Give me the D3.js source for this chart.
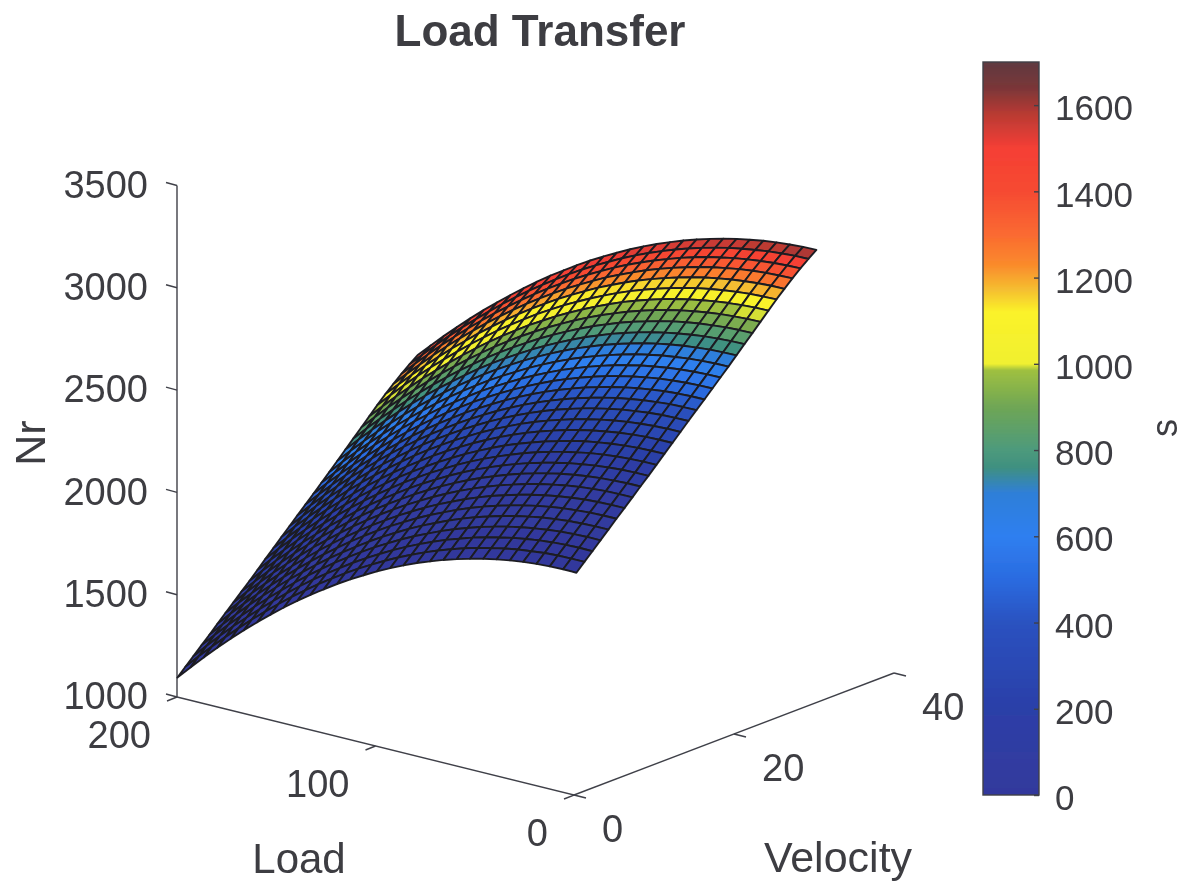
<!DOCTYPE html>
<html>

<head>
    <title>Load Transfer</title>
    <style>
        body {
            margin: 0;
            background: #fff;
        }

        text {
            font-family: "Liberation Sans", Arial, sans-serif;
            fill: #3d3d42;
        }
    </style>
    <script src="https://d3js.org/d3.v7.min.js"></script>
</head>

<body>
    <svg width="1186" height="884"></svg>

    <script>

        // values
        var loads = [0, 6.7, 13.4, 20.1, 26.8, 33.5, 40.2, 46.9, 53.6, 60.3, 67, 73.7, 80.4, 87.1, 93.8, 100.5, 107.2, 113.9, 120.6, 127.3, 134, 140.7, 147.4, 154.1, 160.8, 167.5, 174.2, 180.9, 187.6, 194.3, 201];
        var velocities = [0.3, 1.3, 2.3, 3.3, 4.3, 5.3, 6.3, 7.3, 8.3, 9.3, 10.3, 11.3, 12.3, 13.3, 14.3, 15.3, 16.3, 17.3, 18.3, 19.3, 20.3, 21.3, 22.3, 23.3, 24.3, 25.3, 26.3, 27.3, 28.3, 29.3, 30.3];

        // Nr, one row per load, one column per velocity
        var nr = [
            [2082,2120,2157,2195,2233,2271,2308,2346,2384,2421,2460,2499,2537,2576,2615,2653,2690,2729,2768,2806,2846,2886,2925,2965,3005,3045,3082,3118,3152,3183,3213],
            [2083,2120,2158,2196,2233,2271,2308,2346,2384,2421,2460,2498,2537,2576,2614,2652,2690,2728,2767,2805,2845,2885,2924,2964,3004,3043,3081,3116,3150,3182,3211],
            [2081,2119,2156,2194,2231,2269,2306,2344,2381,2419,2457,2496,2535,2573,2612,2650,2687,2725,2764,2802,2842,2881,2921,2960,3000,3040,3077,3113,3146,3178,3207],
            [2077,2115,2152,2190,2227,2264,2302,2339,2377,2414,2453,2491,2530,2568,2607,2644,2682,2720,2759,2797,2836,2876,2915,2955,2994,3034,3071,3107,3140,3172,3201],
            [2071,2108,2146,2183,2220,2258,2295,2333,2370,2407,2446,2484,2523,2561,2599,2637,2674,2713,2751,2789,2829,2868,2908,2947,2986,3026,3063,3099,3132,3163,3193],
            [2062,2100,2137,2174,2212,2249,2286,2324,2361,2398,2437,2475,2513,2552,2590,2627,2665,2703,2741,2780,2819,2858,2898,2937,2976,3016,3053,3088,3122,3153,3182],
            [2051,2089,2126,2163,2200,2238,2275,2312,2350,2387,2425,2464,2502,2540,2578,2616,2653,2691,2730,2768,2807,2846,2886,2925,2964,3004,3041,3076,3109,3141,3170],
            [2038,2075,2112,2150,2187,2224,2261,2299,2336,2373,2411,2450,2488,2526,2564,2602,2639,2677,2715,2754,2793,2832,2871,2911,2950,2989,3026,3061,3095,3126,3155],
            [2022,2060,2097,2134,2171,2208,2245,2283,2320,2357,2395,2433,2472,2510,2548,2585,2622,2661,2699,2737,2776,2815,2854,2894,2933,2972,3009,3044,3078,3109,3138],
            [2004,2042,2079,2116,2153,2190,2227,2264,2302,2339,2377,2415,2453,2491,2529,2567,2604,2642,2680,2718,2757,2796,2836,2875,2914,2953,2990,3025,3059,3090,3119],
            [1984,2021,2058,2095,2133,2170,2207,2244,2281,2318,2356,2394,2433,2471,2509,2546,2583,2621,2659,2697,2736,2776,2815,2854,2893,2932,2969,3004,3037,3069,3098],
            [1961,1999,2036,2073,2110,2147,2184,2221,2258,2295,2333,2372,2410,2448,2486,2523,2560,2598,2636,2674,2713,2752,2791,2830,2870,2909,2946,2981,3014,3045,3074],
            [1937,1974,2011,2048,2085,2122,2159,2196,2233,2270,2308,2347,2385,2423,2461,2498,2535,2573,2611,2649,2688,2727,2766,2805,2844,2883,2920,2955,2988,3020,3049],
            [1909,1946,1983,2020,2057,2094,2131,2169,2206,2243,2281,2319,2357,2395,2433,2470,2507,2545,2583,2621,2660,2699,2738,2777,2816,2855,2892,2927,2961,2992,3021],
            [1880,1917,1954,1991,2028,2065,2102,2139,2176,2213,2251,2289,2327,2365,2403,2440,2477,2515,2553,2591,2630,2669,2708,2747,2786,2825,2863,2898,2931,2962,2991],
            [1848,1885,1922,1959,1996,2033,2070,2107,2144,2181,2219,2257,2295,2333,2371,2408,2445,2483,2521,2559,2598,2637,2676,2715,2754,2793,2830,2865,2898,2929,2958],
            [1813,1850,1887,1924,1961,1998,2035,2072,2109,2146,2184,2222,2260,2298,2336,2373,2410,2448,2486,2524,2564,2603,2642,2681,2720,2759,2796,2831,2864,2895,2924],
            [1777,1814,1851,1888,1925,1962,1999,2036,2073,2110,2148,2186,2224,2262,2300,2337,2374,2412,2450,2488,2527,2566,2605,2644,2683,2722,2760,2795,2828,2859,2888],
            [1738,1775,1812,1849,1886,1923,1960,1997,2034,2071,2109,2147,2185,2223,2261,2298,2336,2374,2412,2450,2489,2528,2567,2606,2645,2684,2721,2756,2789,2820,2849],
            [1696,1733,1770,1807,1844,1882,1919,1956,1993,2030,2068,2106,2144,2182,2220,2257,2294,2332,2370,2408,2448,2487,2526,2565,2604,2643,2680,2715,2748,2779,2808],
            [1653,1690,1727,1764,1801,1838,1875,1912,1950,1987,2024,2063,2101,2139,2177,2214,2251,2289,2327,2365,2404,2444,2483,2522,2561,2600,2637,2672,2705,2736,2766],
            [1607,1644,1681,1718,1755,1792,1830,1867,1904,1941,1979,2017,2055,2093,2131,2168,2206,2244,2282,2320,2359,2398,2437,2476,2516,2555,2592,2627,2660,2691,2720],
            [1559,1596,1633,1670,1707,1744,1781,1818,1856,1893,1931,1969,2007,2045,2083,2121,2158,2196,2234,2272,2311,2350,2390,2429,2468,2507,2544,2579,2612,2644,2673],
            [1508,1545,1582,1619,1656,1694,1731,1768,1805,1842,1881,1919,1957,1995,2033,2071,2108,2146,2184,2222,2261,2301,2340,2379,2418,2457,2495,2530,2563,2594,2623],
            [1455,1492,1529,1566,1604,1641,1678,1716,1753,1790,1828,1866,1904,1943,1981,2018,2056,2094,2132,2170,2209,2249,2288,2327,2366,2405,2442,2478,2511,2542,2571],
            [1400,1437,1474,1511,1549,1586,1623,1660,1698,1735,1773,1811,1850,1888,1926,1964,2001,2039,2077,2116,2155,2194,2234,2273,2312,2351,2389,2424,2457,2488,2518],
            [1342,1379,1416,1454,1491,1528,1566,1603,1641,1678,1716,1754,1793,1831,1869,1907,1944,1982,2021,2059,2098,2138,2177,2216,2256,2295,2332,2368,2401,2433,2462],
            [1282,1319,1357,1394,1432,1469,1506,1544,1581,1618,1657,1695,1734,1772,1810,1848,1885,1923,1962,2000,2040,2079,2118,2158,2197,2237,2274,2309,2343,2374,2403],
            [1220,1257,1295,1332,1369,1407,1444,1482,1519,1557,1595,1634,1672,1710,1749,1786,1824,1862,1900,1939,1978,2018,2057,2097,2136,2176,2213,2248,2282,2313,2343],
            [1155,1193,1230,1268,1305,1343,1380,1418,1455,1493,1531,1570,1608,1647,1685,1723,1760,1799,1837,1876,1915,1955,1994,2034,2073,2113,2150,2186,2219,2251,2280],
            [1088,1126,1163,1201,1238,1276,1314,1351,1389,1426,1465,1504,1542,1581,1619,1657,1695,1733,1772,1810,1850,1890,1929,1969,2008,2048,2086,2121,2155,2186,2216]
        ];

        // colour value s: per velocity at zero load, and how much it drops with load
        var sByVelocity = [0, 3, 10, 21, 34, 52, 73, 99, 128, 160, 197, 236, 280, 328, 378, 434, 491, 554, 620, 689, 763, 839, 921, 995, 1093, 1185, 1280, 1379, 1482, 1589, 1700];
        var sLoadFactor = [1, 1, 0.99, 0.99, 0.99, 0.98, 0.98, 0.98, 0.97, 0.97, 0.97, 0.96, 0.96, 0.96, 0.95, 0.95, 0.95, 0.94, 0.94, 0.94, 0.93, 0.93, 0.93, 0.92, 0.92, 0.92, 0.91, 0.91, 0.91, 0.9, 0.9];

        var nrTicks = [1000, 1500, 2000, 2500, 3000, 3500];
        var loadTicks = [0, 100, 200];
        var velocityTicks = [0, 20, 40];
        var sTicks = [0, 200, 400, 600, 800, 1000, 1200, 1400, 1600];

        // colormap as seen in the colorbar
        var mapValues = [0, 200, 400, 500, 600, 700, 760, 800, 900, 985, 1000, 1120, 1170, 1230, 1300, 1400, 1500, 1580, 1640, 1700];
        var mapColors = ["#33399c", "#2c3fa8", "#2a52c0", "#2b6be0", "#2f7ff0", "#2f7fd8", "#3f9080", "#4d9a7c", "#6fa655", "#9fc040", "#f0f030", "#fbf22a", "#f5c030", "#fa8a2c", "#fa6a30", "#f64a30", "#f53f35", "#b83a33", "#7a3638", "#5f3a40"];

        var colorScale = d3.scaleLinear().domain(mapValues).range(mapColors);

        // orthographic view: every data axis becomes a screen offset
        var origin = [574, 795];
        var loadX = d3.scaleLinear().domain([0, 200]).range([0, -397]);
        var loadY = d3.scaleLinear().domain([0, 200]).range([0, -98]);
        var velX = d3.scaleLinear().domain([0, 40]).range([0, 320]);
        var velY = d3.scaleLinear().domain([0, 40]).range([0, -122]);
        var nrY = d3.scaleLinear().domain([1000, 3500]).range([0, -511.5]);

        function project(load, vel, z) {
            return [
                origin[0] + loadX(load) + velX(vel),
                origin[1] + loadY(load) + velY(vel) + nrY(z)
            ];
        }

        var svg = d3.select("svg");
        var axisColor = "#3f4048";

        svg.append("defs").append("filter").attr("id", "soft")
            .append("feGaussianBlur").attr("stdDeviation", 0.5);

        var chart = svg.append("g").attr("filter", "url(#soft)");

        function axisLine(a, b) {
            chart.append("line")
                .attr("x1", a[0]).attr("y1", a[1])
                .attr("x2", b[0]).attr("y2", b[1])
                .attr("stroke", axisColor)
                .attr("stroke-width", 1.4);
        }

        // axes
        axisLine(project(200, 0, 1000), project(200, 0, 3500));
        axisLine(project(200, 0, 1000), project(0, 0, 1000));
        axisLine(project(0, 0, 1000), project(0, 40, 1000));

        nrTicks.forEach(function (t) {
            var p = project(200, 0, t);
            axisLine(p, [p[0] - 11, p[1] - 3]);
            chart.append("text")
                .attr("x", p[0] - 29).attr("y", p[1] - 1)
                .attr("dy", "0.35em")
                .attr("text-anchor", "end")
                .attr("font-size", 38)
                .text(t);
        });

        loadTicks.forEach(function (t) {
            var p = project(t, 0, 1000);
            axisLine(p, [p[0] - 10, p[1] + 4]);
            chart.append("text")
                .attr("x", p[0] - 26).attr("y", p[1] + 38)
                .attr("dy", "0.35em")
                .attr("text-anchor", "end")
                .attr("font-size", 38)
                .text(t);
        });

        velocityTicks.forEach(function (t) {
            var p = project(0, t, 1000);
            axisLine(p, [p[0] + 12, p[1] + 3]);
            chart.append("text")
                .attr("x", p[0] + 28).attr("y", p[1] + 34)
                .attr("dy", "0.35em")
                .attr("font-size", 38)
                .text(t);
        });

        // surface, far cells first
        var cells = [];
        d3.range(loads.length - 1).forEach(function (i) {
            d3.range(velocities.length - 1).forEach(function (j) {
                cells.push({ i: i, j: j });
            });
        });
        cells.sort(function (a, b) {
            return (b.i + b.j) - (a.i + a.j);
        });

        var cellPath = d3.line().curve(d3.curveLinearClosed);

        chart.append("g").selectAll("path")
            .data(cells)
            .enter().append("path")
            .attr("d", function (c) {
                return cellPath([
                    [c.i, c.j], [c.i + 1, c.j], [c.i + 1, c.j + 1], [c.i, c.j + 1]
                ].map(function (k) {
                    return project(loads[k[0]], velocities[k[1]], nr[k[0]][k[1]]);
                }));
            })
            .attr("fill", function (c) {
                return colorScale(sByVelocity[c.j] * sLoadFactor[c.i]);
            })
            .attr("stroke", "#1e1e24")
            .attr("stroke-width", 1.9)
            .attr("stroke-linejoin", "round");

        // colorbar, one rect per pixel row
        var barX = 983;
        var barWidth = 56;
        var sScale = d3.scaleLinear().domain([0, 1700]).range([795, 62]);

        chart.append("g").selectAll("rect")
            .data(d3.range(62, 795))
            .enter().append("rect")
            .attr("x", barX)
            .attr("width", barWidth)
            .attr("y", function (d) { return d; })
            .attr("height", 1)
            .attr("fill", function (d) { return colorScale(sScale.invert(d + 0.5)); });

        chart.append("rect")
            .attr("x", barX).attr("y", 62)
            .attr("width", barWidth).attr("height", 733)
            .attr("fill", "none")
            .attr("stroke", axisColor)
            .attr("stroke-width", 1.4);

        var barAxis = chart.append("g")
            .attr("transform", "translate(" + (barX + barWidth) + ",0)")
            .call(d3.axisRight(sScale).tickValues(sTicks).tickFormat(d3.format("d")).tickSize(-5).tickPadding(16));
        barAxis.select(".domain").remove();
        barAxis.selectAll("line").attr("stroke", axisColor).attr("stroke-width", 1.4);
        barAxis.selectAll("text")
            .attr("dy", "0.42em")
            .attr("font-size", 35)
            .attr("font-family", "Liberation Sans");

        // titles
        chart.append("text")
            .attr("x", 540).attr("y", 46)
            .attr("text-anchor", "middle")
            .attr("font-size", 44)
            .attr("font-weight", "bold")
            .text("Load Transfer");

        chart.append("text")
            .attr("x", 299).attr("y", 873)
            .attr("text-anchor", "middle")
            .attr("font-size", 42)
            .text("Load");

        chart.append("text")
            .attr("x", 838).attr("y", 872)
            .attr("text-anchor", "middle")
            .attr("font-size", 43)
            .text("Velocity");

        chart.append("text")
            .attr("transform", "translate(45,443) rotate(-90)")
            .attr("text-anchor", "middle")
            .attr("font-size", 43)
            .text("Nr");

        chart.append("text")
            .attr("transform", "translate(1177,428) rotate(-90)")
            .attr("text-anchor", "middle")
            .attr("font-size", 36)
            .text("s");

    </script>

</body>

</html>
